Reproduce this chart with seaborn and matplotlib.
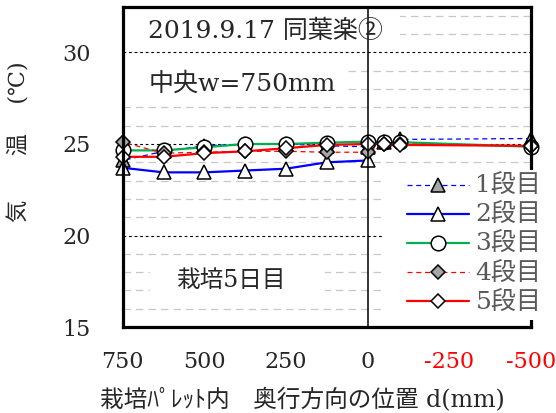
import numpy as np
import matplotlib
matplotlib.use("Agg")
import matplotlib.pyplot as plt
from matplotlib.patches import Rectangle
from matplotlib.ticker import MultipleLocator
import seaborn as sns

# depth position in the pallet (mm)
positions = [750, 625, 500, 375, 250, 125, 0, -50, -100, -500]

# temperature per tier (deg C)
tier1 = [24.1, 24.6, 24.9, 25.0, 25.0, 24.9, 24.85, 25.1, 25.25, 25.3]
tier2 = [23.7, 23.45, 23.45, 23.55, 23.65, 24.0, 24.1, np.nan, np.nan, np.nan]
tier3 = [24.65, 24.65, 24.82, 25.0, 25.0, 25.07, 25.13, 25.1, 25.1, 24.85]
tier4 = [25.1, 24.5, 24.55, 24.6, 24.6, 24.55, 24.55, 25.0, 25.0, 24.9]
tier5 = [24.3, 24.3, 24.5, 24.6, 24.77, 24.95, 25.0, 25.0, 24.95, 24.9]

tier_labels = ["1段目", "2段目", "3段目", "4段目", "5段目"]
xtick_vals = [750, 500, 250, 0, -250, -500]
xtick_labels = ["750", "500", "250", "0", "-250", "-500"]
ytick_vals = [15, 20, 25, 30]

sns.set_style("white")
plt.rcParams["font.family"] = ["DejaVu Serif", "Noto Sans CJK JP"]
plt.rcParams["axes.unicode_minus"] = False

fig = plt.figure(figsize=(5.56, 4.13), dpi=100)
ax = fig.add_axes([0.2207, 0.2082, 0.7344, 0.7755])

gray = "#a6a6a6"
common = dict(ax=ax, markeredgecolor="black", markeredgewidth=1.1, clip_on=False)

sns.lineplot(x=positions, y=tier1, label=tier_labels[0], color="#0000ff", lw=0.9,
             linestyle=(0, (4, 3)), marker="^", markersize=10.5, markerfacecolor=gray, **common)
sns.lineplot(x=positions, y=tier2, label=tier_labels[1], color="#0000ff", lw=1.6,
             marker="^", markersize=10.5, markerfacecolor="white", **common)
sns.lineplot(x=positions, y=tier3, label=tier_labels[2], color="#00b050", lw=1.6,
             marker="o", markersize=10.5, markerfacecolor="white", **common)
sns.lineplot(x=positions, y=tier4, label=tier_labels[3], color="#ff0000", lw=0.9,
             linestyle=(0, (4, 3)), marker="D", markersize=7, markerfacecolor=gray, **common)
sns.lineplot(x=positions, y=tier5, label=tier_labels[4], color="#ff0000", lw=1.6,
             marker="D", markersize=7, markerfacecolor="white", **common)

ax.set_xlim(750, -500)
ax.set_ylim(15, 32.5)

# grid: black dashed every 5, gray dashed every 1
ax.set_axisbelow(True)
ax.yaxis.set_minor_locator(MultipleLocator(1))
ax.grid(False)
ax.grid(True, which="major", axis="y", color="black", lw=0.8, linestyle=(0, (2.5, 2.5)))
ax.grid(True, which="minor", axis="y", color="#c8c8c8", lw=0.9, linestyle=(0, (6, 4)))
ax.axvline(0, color="black", lw=1.1, zorder=3)

# white boxes behind the notes
ax.add_patch(Rectangle((-100, 30.12), 850, 2.38, facecolor="white", edgecolor="none", zorder=1))
ax.add_patch(Rectangle((70, 27.4), 680, 2.2, facecolor="white", edgecolor="none", zorder=1))
ax.add_patch(Rectangle((130, 16.4), 536, 2.2, facecolor="white", edgecolor="none", zorder=1))
ax.add_patch(Rectangle((0.6375, 0.022), 0.40, 0.468, transform=ax.transAxes,
                       facecolor="white", edgecolor="none", zorder=3, clip_on=False))

ax.text(672, 31.16, "2019.9.17 同葉楽②", fontsize=18, va="center", ha="left", zorder=4)
ax.text(672, 28.26, "中央w=750mm", fontsize=18, va="center", ha="left", zorder=4)
ax.text(585, 17.55, "栽培5日目", fontsize=17, va="center", ha="left", zorder=4)

ax.set_xticks(xtick_vals, xtick_labels)
ax.set_yticks(ytick_vals, [str(v) for v in ytick_vals])
for lbl in ax.get_xticklabels():
    if lbl.get_text().startswith("-"):
        lbl.set_color("#ff0000")
ax.tick_params(axis="x", which="major", direction="in", length=6, width=1.2,
               pad=17, labelsize=16, color="black")
ax.tick_params(axis="y", which="both", length=0, pad=23, labelsize=16)

for side in ["left", "right", "top", "bottom"]:
    ax.spines[side].set_linewidth(2.3)
    ax.spines[side].set_color("black")
    ax.spines[side].set_visible(True)

ax.set_ylabel("気　　温　 (℃)", fontsize=16)
ax.yaxis.set_label_coords(-0.225, 0.58)
ax.set_xlabel("栽培ﾊﾟﾚｯﾄ内　奥行方向の位置 d(mm)", fontsize=17)
ax.xaxis.set_label_coords(0.44, -0.19)

leg = ax.legend(loc="upper left", bbox_to_anchor=(0.6956, 0.474), frameon=False,
                fontsize=18, borderpad=0, borderaxespad=0, handlelength=2.5,
                handletextpad=0.25, labelspacing=0.24)
leg.set_zorder(5)
for t in leg.get_texts():
    t.set_color("#595959")

fig.savefig("out.png", dpi=100)
